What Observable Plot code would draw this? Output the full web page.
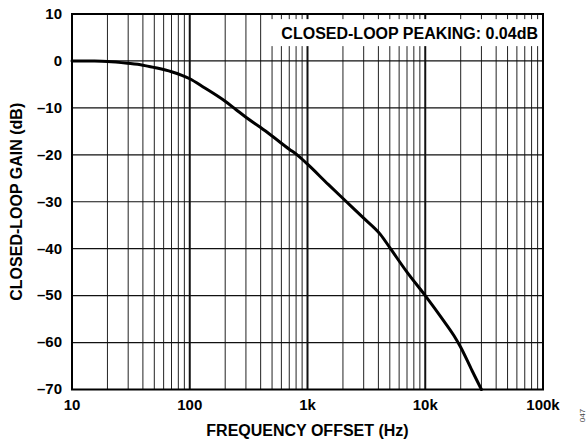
<!DOCTYPE html>
<html>
<head>
<meta charset="utf-8">
<script src="https://cdn.jsdelivr.net/npm/d3@7"></script>
<script src="https://cdn.jsdelivr.net/npm/@observablehq/plot@0.6"></script>
<style>
  html, body { margin: 0; padding: 0; background: #fff; }
  svg { display: block; }
</style>
</head>
<body>
<div id="chart"></div>
<script>
// Data
const freqHz = [10, 15, 20, 30, 40, 50, 70, 100, 131, 200, 245, 300, 400, 500, 700, 817, 1000, 1500, 2143, 3000, 4170, 5070, 7000, 10000, 14000, 17500, 20000, 25000, 30000];
const gainDb = [0, -0.03, -0.1, -0.5, -0.9, -1.4, -2.3, -3.8, -5.6, -8.6, -10.3, -12, -14.2, -16, -18.8, -20, -22, -26.3, -30, -33.5, -37, -40, -45, -50, -55, -58.5, -61, -66, -70];

const xTickValues = [10, 100, 1000, 10000, 100000];
const xTickLabels = ["10", "100", "1k", "10k", "100k"];
const yTickValues = [10, 0, -10, -20, -30, -40, -50, -60, -70];
const yTickLabels = ["10", "0", "–10", "–20", "–30", "–40", "–50", "–60", "–70"];
const gridMultipliers = [2, 3, 4, 5, 6, 7, 8, 9];

const annotation = "CLOSED-LOOP PEAKING: 0.04dB";
const xLabel = "FREQUENCY OFFSET (Hz)";
const yLabel = "CLOSED-LOOP GAIN (dB)";
const figureCode = "047";

const curve = freqHz.map((f, i) => ({f, g: gainDb[i]}));
const minorGrid = xTickValues.slice(0, -1).flatMap(d => gridMultipliers.map(m => d * m));
const xLabelMap = new Map(xTickValues.map((v, i) => [v, xTickLabels[i]]));
const yLabelMap = new Map(yTickValues.map((v, i) => [v, yTickLabels[i]]));

const font = "'Liberation Sans', Arial, Helvetica, sans-serif";

// Text mark that paints a white box behind itself
function boxedText(data, options) {
  return Plot.text(data, {
    ...options,
    render(index, scales, values, dims, context, next) {
      const g = next(index, scales, values, dims, context);
      setTimeout(() => {
        const t = g.querySelector("text");
        if (!t) return;
        const b = t.getBBox();
        const r = document.createElementNS("http://www.w3.org/2000/svg", "rect");
        r.setAttribute("x", b.x - 11);
        r.setAttribute("y", b.y - 6);
        r.setAttribute("width", b.width + 11 + 4);
        r.setAttribute("height", b.height + 10);
        r.setAttribute("fill", "white");
        const tr = t.getAttribute("transform");
        if (tr) r.setAttribute("transform", tr);
        t.parentNode.insertBefore(r, t);
      }, 0);
      return g;
    }
  });
}

const chart = Plot.plot({
  width: 587,
  height: 446,
  marginLeft: 71.5,
  marginRight: 44.5,
  marginTop: 13.5,
  marginBottom: 57,
  style: {fontFamily: font, background: "white", color: "black"},
  x: {type: "log", domain: [10, 100000]},
  y: {domain: [-70, 10]},
  marks: [
    Plot.ruleX(minorGrid, {stroke: "#222", strokeWidth: 1}),
    Plot.ruleX(xTickValues, {stroke: "#111", strokeWidth: 2}),
    Plot.ruleY(yTickValues, {stroke: "#111", strokeWidth: 1.2}),
    boxedText([annotation], {
      frameAnchor: "top-right", dx: -5, dy: 20,
      text: d => d, fontSize: 16, fontWeight: "bold", fill: "black", textAnchor: "end", lineAnchor: "middle"
    }),
    Plot.line(curve, {x: "f", y: "g", stroke: "black", strokeWidth: 3, curve: "monotone-x"}),
    Plot.frame({stroke: "black", strokeWidth: 2}),
    Plot.axisX({
      ticks: xTickValues, tickFormat: d => xLabelMap.get(d), tickSize: 0, tickPadding: 10,
      fontSize: 15, fontWeight: "bold", label: null
    }),
    Plot.axisY({
      ticks: yTickValues, tickFormat: d => yLabelMap.get(d), tickSize: 0, tickPadding: 10,
      fontSize: 15, fontWeight: "bold", label: null
    }),
    Plot.text([xLabel], {
      frameAnchor: "bottom", dy: 46, text: d => d, fontSize: 16, fontWeight: "bold", fill: "black"
    }),
    Plot.text([yLabel], {
      frameAnchor: "left", dx: -55.5, rotate: -90, textAnchor: "middle", lineAnchor: "middle",
      text: d => d, fontSize: 16, fontWeight: "bold", fill: "black"
    }),
    Plot.text([figureCode], {
      frameAnchor: "bottom-right", dx: 39, dy: 26, rotate: -90, textAnchor: "middle", lineAnchor: "middle",
      text: d => d, fontSize: 8, fill: "#444"
    })
  ]
});

document.getElementById("chart").appendChild(chart);
</script>
</body>
</html>
